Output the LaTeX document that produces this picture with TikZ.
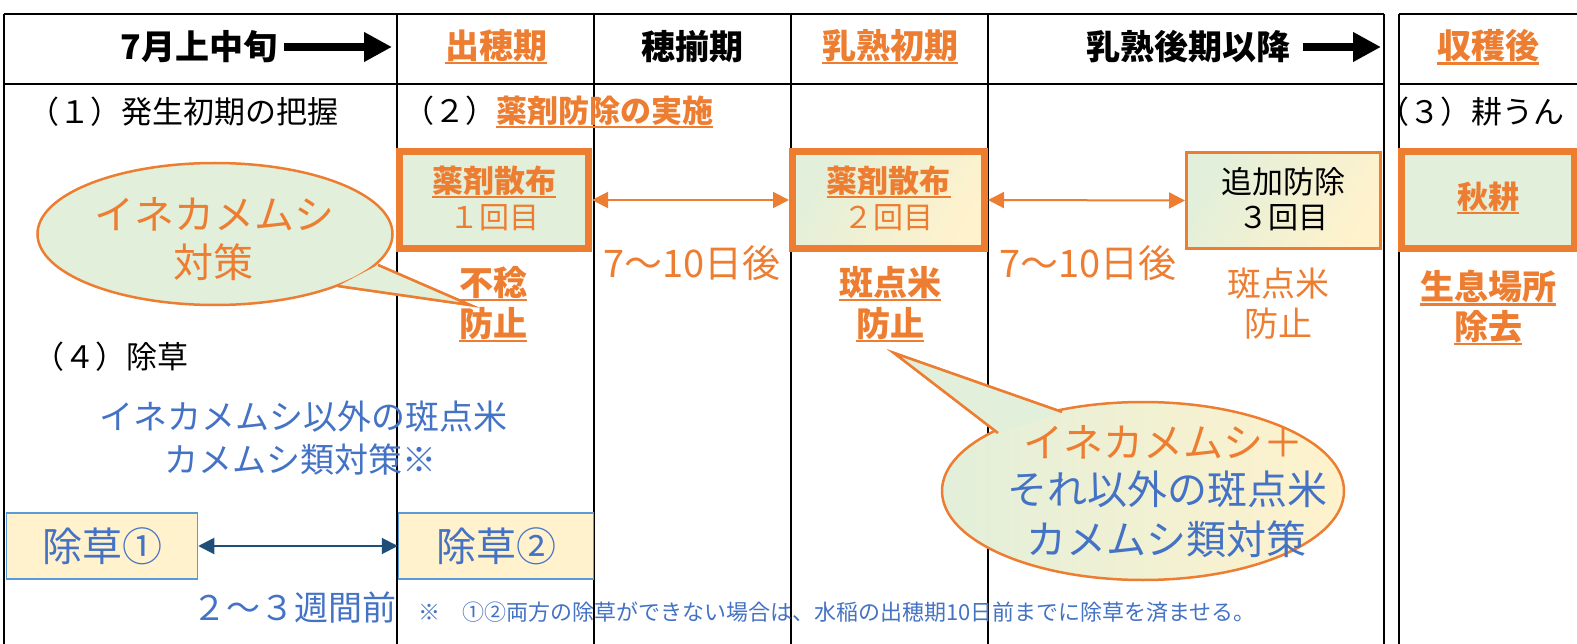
\documentclass[tikz,border=0pt]{standalone}
\usepackage{fontspec}
\setmainfont{Noto Sans CJK JP}
\usetikzlibrary{arrows.meta,shapes.geometric}
\definecolor{cOr}{HTML}{ED7D31}
\definecolor{cBl}{HTML}{4472C4}
\definecolor{cGr}{HTML}{E2EFDA}
\definecolor{cYe}{HTML}{FFF2CC}
\definecolor{cBd}{HTML}{5B9BD5}
\definecolor{cDk}{HTML}{1F4E79}
\newsavebox\ulbox
\newcommand\ulx[1]{\sbox\ulbox{#1}\rlap{\rule[-0.17em]{\wd\ulbox}{0.065em}}\usebox\ulbox}
\begin{document}
\begin{tikzpicture}[x=1pt,y=-1pt,
  every node/.style={inner sep=0pt,outer sep=0pt},
  tbl/.style={line width=2.5pt,black},
  hdr/.style={font=\fontsize{34}{40}\selectfont\bfseries},
  rowt/.style={font=\fontsize{31}{36}\selectfont},
  boxb/.style={font=\fontsize{31}{36}\selectfont\bfseries,text=cOr},
  boxr/.style={font=\fontsize{30}{36}\selectfont},
  ubold/.style={font=\fontsize{34}{40}\selectfont\bfseries,text=cOr},
  ureg/.style={font=\fontsize{34}{40}\selectfont,text=cOr},
  daytxt/.style={font=\fontsize{38}{44}\selectfont,text=cOr},
  bluet/.style={font=\fontsize{34}{40}\selectfont,text=cBl},
  calltxt/.style={font=\fontsize{40}{46}\selectfont},
  thickbox/.style={draw=cOr,line width=7pt,outer sep=3.5pt,rectangle},
  thinbox/.style={draw=cOr,line width=3pt,outer sep=1.5pt,rectangle},
  wbox/.style={draw=cBd,line width=1.5pt,fill=cYe,outer sep=0.75pt,rectangle,
    font=\fontsize{40}{46}\selectfont,text=cBl},
  harr/.style={line width=8pt,-{Triangle[length=28pt,width=28pt]}},
  oarr/.style={cOr,line width=2pt,{Triangle[length=16pt,width=16pt]}-{Triangle[length=16pt,width=16pt]}},
  barr/.style={cDk,line width=2pt,{Triangle[length=16pt,width=16pt]}-{Triangle[length=16pt,width=16pt]}},
  callline/.style={draw=cOr,line width=2.5pt},
]
\useasboundingbox (0,0) rectangle (1577,644);
\clip (0,0) rectangle (1577,644);
% table
\draw[tbl] (4,14) -- (1384,14);
\draw[tbl] (4,84) -- (1384,84);
\foreach \x in {4,397,594,791,988,1384} \draw[tbl] (\x,14) -- (\x,644);
\draw[tbl] (1399,14) -- (1577,14);
\draw[tbl] (1399,84) -- (1577,84);
\draw[tbl] (1399,14) -- (1399,644);
% header
\node[hdr] (h1) at (199,47) {7月上中旬};
\coordinate (h1s) at (284,47); \coordinate (h1e) at (392,47);
\draw[harr] (h1s) -- (h1e);
\node[hdr,text=cOr] (h2) at (496,47) {\ulx{出穂期}};
\node[hdr] (h3) at (692,47) {穂揃期};
\node[hdr,text=cOr] (h4) at (890,47) {\ulx{乳熟初期}};
\node[hdr] (h5) at (1188,47) {乳熟後期以降};
\coordinate (h5s) at (1303,47); \coordinate (h5e) at (1381,47);
\draw[harr] (h5s) -- (h5e);
\node[hdr,text=cOr] (h6) at (1488,47) {\ulx{収穫後}};
% row 2
\node[rowt,anchor=west] (r1) at (28,112) {（１）発生初期の把握};
\node[rowt,anchor=west] (r2) at (403,112) {（２）\textbf{\textcolor{cOr}{\ulx{薬剤防除の実施}}}};
\node[rowt,anchor=west] (r3) at (1378,112) {（３）耕うん};
\node[rowt,anchor=west] (r4) at (33,357) {（４）除草};
% boxes
\node[thickbox,fill=cGr,minimum width=189,minimum height=97] (b1) at (494,200) {};
\node[boxb] (b1t) at (494,182) {\ulx{薬剤散布}};
\node[boxr,text=cOr] (b1n) at (494,218) {１回目};
\node[thickbox,left color=cGr,right color=cYe,shading angle=60,minimum width=192,minimum height=97] (b2) at (888.5,200) {};
\node[boxb] (b2t) at (888.5,182) {\ulx{薬剤散布}};
\node[boxr,text=cOr] (b2n) at (888.5,218) {２回目};
\node[thinbox,left color=cGr,right color=cYe,shading angle=60,minimum width=194,minimum height=96] (b3) at (1283.5,200.5) {};
\node[boxr,font=\fontsize{31}{36}\selectfont] (b3t) at (1283.5,182) {追加防除};
\node[boxr] (b3n) at (1283.5,218) {３回目};
\node[thickbox,fill=cGr,minimum width=173,minimum height=97] (b4) at (1488,200) {};
\node[boxb] (b4t) at (1488,198) {\ulx{秋耕}};
\draw[oarr] (b1.east) -- (b2.west);
\draw[oarr] (b2.east) -- (b3.west);
\node[daytxt] (d1) at (692,263) {7〜10日後};
\node[daytxt] (d2) at (1088,263) {7〜10日後};
% under texts
\node[ubold] (u1a) at (493,284) {\ulx{不稔}};
\node[ubold] (u1b) at (493,325) {\ulx{防止}};
\node[ubold] (u2a) at (890,284) {\ulx{斑点米}};
\node[ubold] (u2b) at (890,325) {\ulx{防止}};
\node[ureg] (u3a) at (1278,284) {斑点米};
\node[ureg] (u3b) at (1278,324) {防止};
\node[ubold] (u4a) at (1488,288) {\ulx{生息場所}};
\node[ubold] (u4b) at (1488,328) {\ulx{除去}};
% blue texts
\node[bluet] (bl1) at (303,417) {イネカメムシ以外の斑点米};
\node[bluet] (bl2) at (300,460) {カメムシ類対策※};
\node[wbox,minimum width=191,minimum height=66] (w1) at (102,546) {除草①};
\node[wbox,minimum width=195,minimum height=66] (w2) at (496,546) {除草②};
\draw[barr] (w1.east) -- (w2.west);
\node[bluet] (wk) at (294,608) {２〜３週間前};
\node[font=\fontsize{22}{26}\selectfont,text=cBl,anchor=west] (note) at (418,612) {※　①②両方の除草ができない場合は、水稲の出穂期10日前までに除草を済ませる。};
% callout 1
\coordinate (c1a) at (378,265); \coordinate (c1b) at (338,286); \coordinate (c1t) at (470,305);
\fill[cGr] (c1a) -- (c1t) -- (c1b) -- cycle;
\draw[callline] (c1a) -- (c1t) -- (c1b);
\node[ellipse,callline,fill=cGr,minimum width=355,minimum height=142] (e1) at (215,234) {};
\fill[cGr] (c1a) -- (c1t) -- (c1b) -- cycle;
\draw[callline] (c1a) -- (c1t) -- (c1b);
\node[calltxt,text=cOr] (e1a) at (214,214) {イネカメムシ};
\node[calltxt,text=cOr] (e1b) at (213,262) {対策};
% callout 2
\coordinate (c2a) at (1062,412); \coordinate (c2b) at (998,433); \coordinate (c2t) at (894,353);
\fill[cGr] (c2a) -- (c2t) -- (c2b) -- cycle;
\draw[callline] (c2a) -- (c2t) -- (c2b);
\node[ellipse,callline,left color=cGr,right color=cYe,minimum width=402,minimum height=178] (e2) at (1143,491) {};
\fill[cGr] (c2a) -- (c2t) -- (c2b) -- cycle;
\draw[callline] (c2a) -- (c2t) -- (c2b);
\node[calltxt,text=cOr] (e2a) at (1163,442) {イネカメムシ＋};
\node[calltxt,text=cBl] (e2b) at (1167,489) {それ以外の斑点米};
\node[calltxt,text=cBl] (e2c) at (1166,539) {カメムシ類対策};
\end{tikzpicture}
\end{document}
